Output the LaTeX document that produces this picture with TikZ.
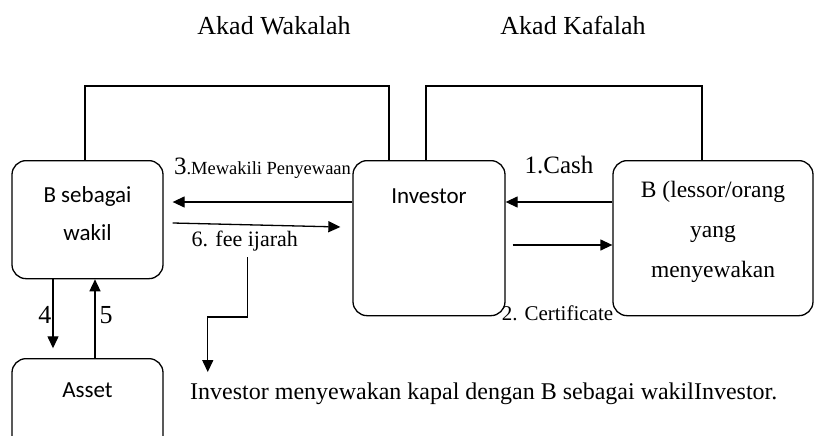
\documentclass[tikz,border=0pt]{standalone}
\usepackage{fontspec}
\setmainfont{Liberation Serif}
\newfontfamily\calibri{Carlito}
\usetikzlibrary{arrows.meta, positioning}

\begin{document}
\begin{tikzpicture}[
          x=1pt, y=-1pt,
          box/.style={draw, line width=1.3pt, rounded corners=14pt, inner ysep=0pt, anchor=north,
                      font=\calibri\fontsize{23}{38}\selectfont, align=center},
          lbl/.style={inner sep=0pt, font=\fontsize{#1}{#1}\selectfont},
          arr/.style={-{Triangle[length=12pt, width=11pt]}, line width=1.3pt},
          link/.style={line width=1.3pt}
        ]
        \useasboundingbox (0,0) rectangle (820,436);
        % parties
        \node[box, minimum width=151pt, text height=80pt, text depth=38pt] (wakil) at (87.5,160) {B sebagai\\wakil};
        \node[box, minimum width=152pt, text height=43pt, text depth=112pt] (investor) at (429,160) {Investor};
        \node[box, minimum width=200pt, text height=117pt, text depth=38pt,
              font=\fontsize{23.5}{40}\selectfont] (lessor) at (713,160) {B (lessor/orang\\yang\\menyewakan};
        \node[box, minimum width=151pt, text height=39pt, text depth=81pt] (asset) at (87.5,358) {Asset};
        % akad
        \node[lbl=26, anchor=base] (wakalah) at (274,35) {Akad Wakalah};
        \node[lbl=26, anchor=base] (kafalah) at (573,35) {Akad Kafalah};
        \draw[link] ([xshift=-2.5pt]wakil.north) -- ++(0,-74) -| ([xshift=-40pt]investor.north);
        \draw[link] ([xshift=-3pt]investor.north) -- ++(0,-74) -| ([xshift=-11pt]lessor.north);
        % flows
        \draw[arr] ([yshift=-42pt]lessor.north west) -- ([yshift=-42pt]investor.north east)
          node[lbl=25, midway, anchor=base, yshift=29pt] (cash) {1.Cash};
        \draw[arr] ([xshift=7pt, yshift=-85pt]investor.north east) -- ([yshift=-85pt]lessor.north west)
          node[lbl=21, midway, anchor=base, xshift=-5pt, yshift=-75pt] (cert) {2. Certificate};
        \draw[arr] ([yshift=-42pt]investor.north west) -- ([xshift=9pt, yshift=-42pt]wakil.north east)
          node[lbl=18.5, midway, anchor=base, yshift=28pt] (mewakili) {{\fontsize{25}{25}\selectfont 3}.Mewakili Penyewaan};
        \draw[arr] ([xshift=9pt, yshift=-63pt]wakil.north east) -- ([xshift=-12pt, yshift=-67pt]investor.north west)
          node[lbl=22, pos=0.43, anchor=base, yshift=-22pt] (fee) {6. fee ijarah};
        \draw[arr] ([xshift=-34.5pt]wakil.south) -- ++(0,69)
          node[lbl=26, midway, anchor=base east, xshift=-1pt, yshift=-10pt] (four) {4};
        \draw[arr] ([xshift=7.5pt]asset.north) -- ([xshift=7.5pt]wakil.south)
          node[lbl=26, midway, anchor=base west, xshift=4pt, yshift=-5pt] (five) {5};
        % keterangan
        \node[lbl=24, anchor=base west] (note) at (190,399) {Investor menyewakan kapal dengan B sebagai wakilInvestor.};
        \draw[arr] (fee.south) ++(3,5) -- ++(0,60) -- ++(-40,0) -- ++(0,55);
      \end{tikzpicture}
\end{document}
